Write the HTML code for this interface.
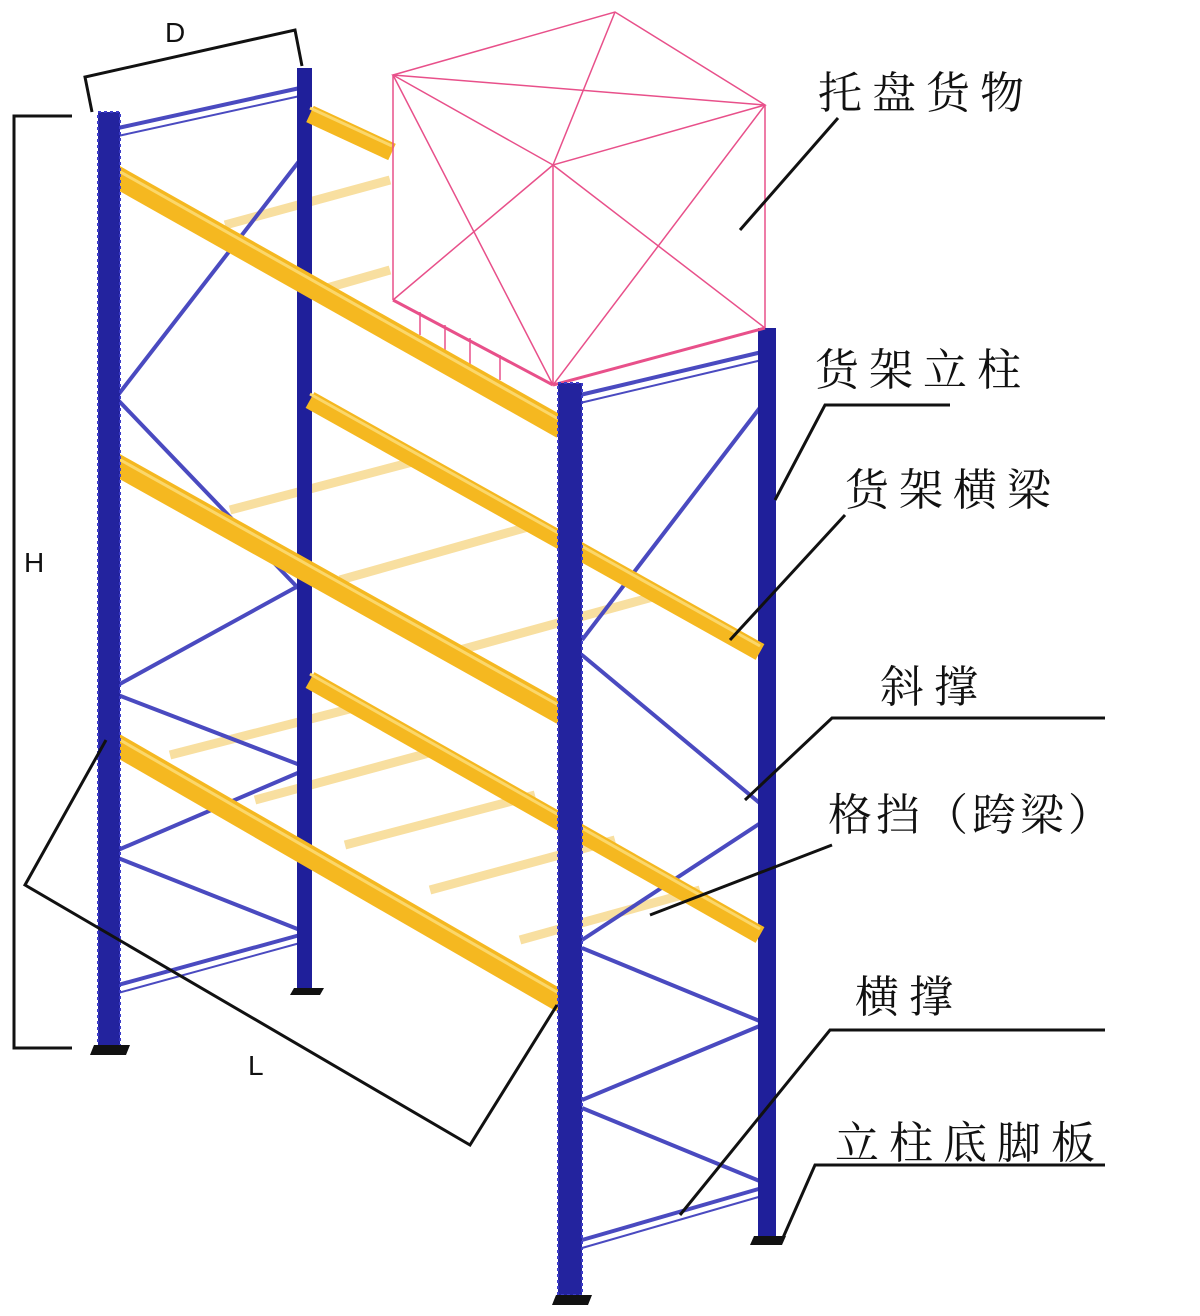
<!DOCTYPE html>
<html><head><meta charset="utf-8"><style>
html,body{margin:0;padding:0;background:#fff;}
svg{display:block}
text{font-family:"Liberation Serif","Noto Serif CJK SC","Noto Sans CJK SC",serif;fill:#111}
</style></head><body>
<svg width="1200" height="1316" viewBox="0 0 1200 1316" xmlns="http://www.w3.org/2000/svg">
<!-- cross bars -->
<g stroke="#f8dfa0" stroke-width="9" stroke-linecap="butt">
<line x1="225" y1="225" x2="390" y2="180"/>
<line x1="320" y1="290" x2="390" y2="270"/>
<line x1="230" y1="510" x2="420" y2="460"/>
<line x1="340" y1="580" x2="535" y2="525"/>
<line x1="460" y1="650" x2="660" y2="595"/>
<line x1="170" y1="755" x2="365" y2="705"/>
<line x1="255" y1="800" x2="440" y2="750"/>
<line x1="345" y1="845" x2="535" y2="795"/>
<line x1="430" y1="890" x2="615" y2="840"/>
<line x1="520" y1="940" x2="700" y2="890"/>
</g>
<g stroke="#4a4ac0" stroke-width="4" fill="none">
<line x1="118" y1="128" x2="300" y2="88"/><line x1="118" y1="136" x2="300" y2="96" stroke-width="2"/>
<line x1="118" y1="395" x2="300" y2="160"/>
<line x1="118" y1="400" x2="300" y2="590"/>
<line x1="118" y1="685" x2="300" y2="585"/>
<line x1="118" y1="695" x2="300" y2="765"/>
<line x1="118" y1="850" x2="300" y2="772"/>
<line x1="118" y1="858" x2="300" y2="930"/>
<line x1="118" y1="985" x2="300" y2="935"/><line x1="118" y1="993" x2="300" y2="943" stroke-width="2"/>
</g>
<g stroke="#4a4ac0" stroke-width="4" fill="none">
<line x1="580" y1="395" x2="762" y2="352"/><line x1="580" y1="403" x2="762" y2="360" stroke-width="2"/>
<line x1="582" y1="640" x2="762" y2="405"/>
<line x1="582" y1="655" x2="762" y2="805"/>
<line x1="582" y1="940" x2="762" y2="822"/>
<line x1="582" y1="948" x2="762" y2="1022"/>
<line x1="582" y1="1100" x2="762" y2="1025"/>
<line x1="582" y1="1108" x2="762" y2="1182"/>
<line x1="582" y1="1240" x2="762" y2="1188"/><line x1="582" y1="1248" x2="762" y2="1196" stroke-width="2"/>
</g>
<rect x="297" y="68" width="15" height="925" fill="#1f1f9a"/>
<path d="M290 995 L320 995 L324 988 L294 988Z" fill="#111"/>
<rect x="758" y="328" width="18" height="912" fill="#1f1f9a"/>
<path d="M750 1245 L782 1245 L786 1236 L754 1236Z" fill="#111"/>
<g stroke="#f5b820" stroke-width="18">
<line x1="310" y1="114" x2="392" y2="152"/>
<line x1="310" y1="400" x2="760" y2="652"/>
<line x1="310" y1="680" x2="760" y2="935"/>
</g>
<g stroke="#fbd76a" stroke-width="3">
<line x1="310" y1="108" x2="392" y2="146"/>
<line x1="310" y1="394" x2="760" y2="646"/>
<line x1="310" y1="674" x2="760" y2="929"/>
</g>
<g stroke="#e8508a" stroke-width="1.5" fill="none">
<path d="M393 75 L615 12 L765 105 L553 165 Z"/>
<line x1="393" y1="75" x2="393" y2="300"/>
<line x1="765" y1="105" x2="765" y2="328"/>
<line x1="553" y1="165" x2="553" y2="385"/>
<line x1="393" y1="75" x2="765" y2="105"/>
<line x1="615" y1="12" x2="553" y2="165"/>
<line x1="393" y1="75" x2="553" y2="385"/>
<line x1="553" y1="165" x2="393" y2="300"/>
<line x1="765" y1="105" x2="553" y2="385"/>
<line x1="553" y1="165" x2="765" y2="328"/>
<line x1="393" y1="300" x2="553" y2="385" stroke-width="3"/>
<line x1="553" y1="385" x2="765" y2="328" stroke-width="3"/>
<line x1="420" y1="312" x2="420" y2="335"/><line x1="445" y1="325" x2="445" y2="350"/>
<line x1="470" y1="338" x2="470" y2="365"/><line x1="500" y1="355" x2="500" y2="380"/>
</g>
<g stroke="#f5b820" stroke-width="22">
<line x1="108" y1="172" x2="562" y2="428"/>
<line x1="108" y1="460" x2="562" y2="714"/>
<line x1="108" y1="740" x2="562" y2="1002"/>
</g>
<g stroke="#fbd76a" stroke-width="3">
<line x1="108" y1="165" x2="562" y2="421"/>
<line x1="108" y1="453" x2="562" y2="707"/>
<line x1="108" y1="733" x2="562" y2="995"/>
</g>
<rect x="98" y="112" width="22" height="935" fill="#23239e"/>
<rect x="98" y="112" width="22" height="935" fill="none" stroke="#3c3cc8" stroke-width="2" stroke-dasharray="3 3"/>
<path d="M90 1055 L126 1055 L130 1045 L94 1045Z" fill="#111"/>
<rect x="558" y="383" width="24" height="912" fill="#23239e"/>
<rect x="558" y="383" width="24" height="912" fill="none" stroke="#3c3cc8" stroke-width="2" stroke-dasharray="3 3"/>
<path d="M552 1305 L588 1305 L592 1295 L556 1295Z" fill="#111"/>
<g stroke="#111" stroke-width="3" fill="none">
<path d="M92 112 L85 77 L295 30 L302 66"/>
<path d="M72 116 L14 116 L14 1048 L72 1048"/>
<path d="M106 740 L25 885 L470 1145 L557 1005"/>
</g>
<text x="165" y="42" font-size="28" style="font-family:'Liberation Sans',sans-serif">D</text>
<text x="24" y="572" font-size="28" style="font-family:'Liberation Sans',sans-serif">H</text>
<text x="248" y="1075" font-size="28" style="font-family:'Liberation Sans',sans-serif">L</text>
<g stroke="#111" stroke-width="3" fill="none">
<path d="M740 230 L838 118"/>
<path d="M775 500 L825 405 L950 405"/>
<path d="M730 640 L845 515"/>
<path d="M745 800 L832 718 L1105 718"/>
<path d="M650 915 L832 845"/>
<path d="M680 1215 L830 1030 L1105 1030"/>
<path d="M782 1240 L815 1165 L1105 1165"/>
</g>
<g font-size="44" letter-spacing="10">
<text x="818" y="108">托盘货物</text>
<text x="815" y="385">货架立柱</text>
<text x="845" y="505">货架横梁</text>
<text x="880" y="702">斜撑</text>
<text x="828" y="830" letter-spacing="4">格挡（跨梁）</text>
<text x="855" y="1012">横撑</text>
<text x="835" y="1158">立柱底脚板</text>
</g>
</svg>
</body></html>
